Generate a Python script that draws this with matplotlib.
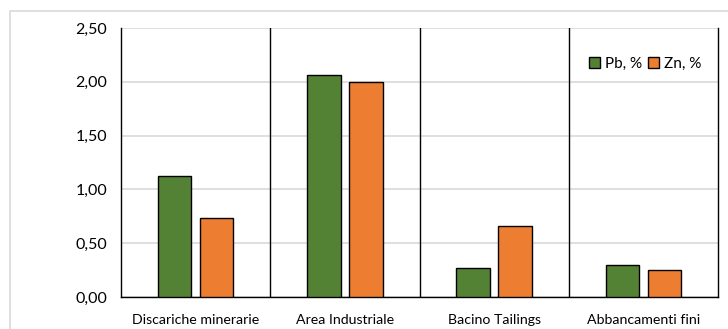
import numpy as np
import matplotlib.pyplot as plt
from matplotlib.patches import Rectangle
from matplotlib.ticker import FuncFormatter

plt.rcParams['font.family'] = ['Lato', 'DejaVu Sans']

# Lead and zinc content per sampling area
categories = ['Discariche minerarie', 'Area Industriale', 'Bacino Tailings', 'Abbancamenti fini']
pb_values = [1.12, 2.06, 0.27, 0.30]
zn_values = [0.73, 2.00, 0.66, 0.25]
series_labels = ['Pb, %', 'Zn, %']

green = '#548235'
orange = '#ED7D31'

fig = plt.figure(figsize=(7.28, 3.29), dpi=100)
# light frame around the chart area
fig.patches.append(Rectangle((10 / 728, -0.05), 1.2, 1 - 11 / 329 + 0.05,
                             transform=fig.transFigure, fill=False,
                             edgecolor='#d9d9d9', linewidth=1.2))

ax = fig.add_axes([121 / 728, 1 - 297 / 329, 597 / 728, 269 / 329])

x = np.arange(len(categories))
w = 0.225
off = 0.141
ax.bar(x - off, pb_values, w, color=green, edgecolor='black', linewidth=1,
       label=series_labels[0], zorder=3)
ax.bar(x + off, zn_values, w, color=orange, edgecolor='black', linewidth=1,
       label=series_labels[1], zorder=3)

ax.set_xlim(-0.5, len(categories) - 0.5)
ax.set_ylim(0, 2.5)
ax.set_yticks(np.arange(0, 2.51, 0.5))
ax.yaxis.set_major_formatter(FuncFormatter(lambda v, p: f'{v:.2f}'.replace('.', ',')))
ax.grid(axis='y', color='#d9d9d9', linewidth=1.2, zorder=0)

# separators between the areas
for b in x[:-1] + 0.5:
    ax.axvline(b, color='black', linewidth=1, zorder=2)

ax.set_xticks(x)
ax.set_xticklabels(categories, fontsize=10.2)
ax.tick_params(axis='x', length=0, pad=12)
ax.tick_params(axis='y', length=0, pad=10, labelsize=11.5)

for s in ['left', 'right', 'bottom']:
    ax.spines[s].set_color('black')
    ax.spines[s].set_linewidth(1)
ax.spines['top'].set_visible(False)

ax.legend(loc='upper right', bbox_to_anchor=(0.995, 0.945), ncol=2, frameon=False,
          fontsize=11, handlelength=0.75, handleheight=0.75, handletextpad=0.3,
          columnspacing=0.4)

fig.savefig('out.png', dpi=100)
